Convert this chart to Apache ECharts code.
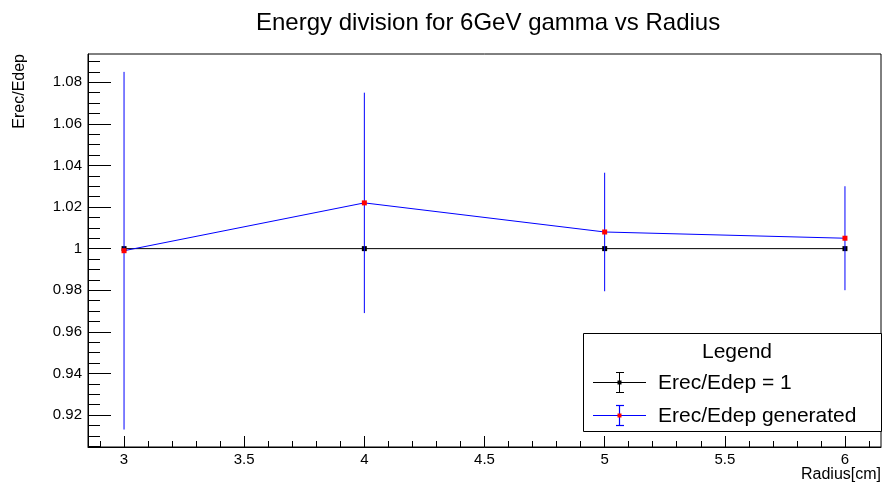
<!DOCTYPE html>
<html><head><meta charset="utf-8">
<script src="https://cdn.jsdelivr.net/npm/echarts@6/dist/echarts.min.js"></script>
<style>html,body{margin:0;padding:0;background:#fff}#c{width:884px;height:484px}</style>
</head><body><div id="c"></div>
<script>
// ---- data ----
const radius = [3, 4, 5, 6];
const refValues = [1, 1, 1, 1];
const genValues = [0.999, 1.022, 1.008, 1.005];
const genErrors = [0.086, 0.053, 0.0285, 0.025];
const xMajorTicks = [3, 3.5, 4, 4.5, 5, 5.5, 6];
const yMajorTicks = [0.92, 0.94, 0.96, 0.98, 1, 1.02, 1.04, 1.06, 1.08];
const seriesNames = ['Erec/Edep = 1', 'Erec/Edep generated'];

const X_MIN = 2.85, X_MAX = 6.15;
const Y_MIN = 0.9046, Y_MAX = 1.0936;

const xMinorTicks = [];
for (let i = 29; i <= 61; i++) xMinorTicks.push(i / 10);
const yMinorTicks = [];
for (let i = 181; i <= 218; i++) yMinorTicks.push(i / 200);

const FONT = 'Liberation Sans, Arial, Helvetica, sans-serif';
const fmt = v => String(+(+v).toFixed(2));

const chart = echarts.init(document.getElementById('c'), null, {renderer: 'canvas'});

function xAxisBase() {
  return {type: 'value', min: X_MIN, max: X_MAX, position: 'bottom', splitLine: {show: false}};
}
function yAxisBase() {
  return {type: 'value', min: Y_MIN, max: Y_MAX, position: 'left', splitLine: {show: false}};
}

const option = {
  animation: false,
  backgroundColor: '#fff',
  title: {
    text: 'Energy division for 6GeV gamma vs Radius',
    left: 251, top: 6,
    textStyle: {fontFamily: FONT, fontSize: 24, fontWeight: 'normal', color: '#000'}
  },
  grid: {left: 88, right: 3, top: 54, bottom: 37, show: true, borderColor: '#000', borderWidth: 1},
  xAxis: [
    Object.assign(xAxisBase(), {
      axisLine: {show: true, onZero: false, lineStyle: {color: '#000', width: 1}},
      axisTick: {show: true, inside: true, length: 11, customValues: xMajorTicks, lineStyle: {color: '#000'}},
      axisLabel: {show: true, customValues: xMajorTicks, formatter: fmt, margin: 5,
        fontFamily: FONT, fontSize: 15, color: '#000'}
    }),
    Object.assign(xAxisBase(), {
      axisLine: {show: false, onZero: false},
      axisTick: {show: true, inside: true, length: 6, customValues: xMinorTicks, lineStyle: {color: '#000'}},
      axisLabel: {show: false}
    })
  ],
  yAxis: [
    Object.assign(yAxisBase(), {
      axisLine: {show: true, onZero: false, lineStyle: {color: '#000', width: 1}},
      axisTick: {show: true, inside: true, length: 23, customValues: yMajorTicks, lineStyle: {color: '#000'}},
      axisLabel: {show: true, customValues: yMajorTicks, formatter: fmt, margin: 6,
        fontFamily: FONT, fontSize: 15, color: '#000'}
    }),
    Object.assign(yAxisBase(), {
      axisLine: {show: false, onZero: false},
      axisTick: {show: true, inside: true, length: 12, customValues: yMinorTicks, lineStyle: {color: '#000'}},
      axisLabel: {show: false}
    })
  ],
  series: [
    {
      name: seriesNames[0], type: 'line', xAxisIndex: 0, yAxisIndex: 0,
      data: radius.map((r, i) => [r, refValues[i]]),
      symbol: 'rect', symbolSize: 5, showSymbol: true,
      lineStyle: {color: '#000', width: 1}, itemStyle: {color: '#000'}, z: 2
    },
    {
      name: seriesNames[1] + ' errors', type: 'custom', xAxisIndex: 0, yAxisIndex: 0,
      data: radius.map((r, i) => [r, genValues[i], genErrors[i]]),
      encode: {x: 0, y: 1},
      renderItem: (params, api) => {
        const x = api.value(0), y = api.value(1), e = api.value(2);
        const t = api.coord([x, y + e]);
        const b = api.coord([x, y - e]);
        return {type: 'line', shape: {x1: t[0], y1: t[1], x2: b[0], y2: b[1]},
          style: {stroke: '#0000ff', lineWidth: 1}};
      },
      z: 3
    },
    {
      name: seriesNames[1], type: 'line', xAxisIndex: 0, yAxisIndex: 0,
      data: radius.map((r, i) => [r, genValues[i]]),
      symbol: 'rect', symbolSize: 5, showSymbol: true,
      lineStyle: {color: '#0000ff', width: 1}, itemStyle: {color: '#ff0000'}, z: 4
    }
  ],
  graphic: [
    // axis titles
    {type: 'text', x: 20, y: 54, rotation: Math.PI / 2,
      style: {text: 'Erec/Edep', font: '16px ' + FONT, fill: '#000', align: 'right', verticalAlign: 'middle'}},
    {type: 'text', x: 881, y: 475,
      style: {text: 'Radius[cm]', font: '16px ' + FONT, fill: '#000', align: 'right', verticalAlign: 'middle'}},
    // legend box
    {type: 'rect', shape: {x: 583.5, y: 333.5, width: 298, height: 98},
      style: {fill: '#fff', stroke: '#000', lineWidth: 1}, z: 10},
    {type: 'text', x: 737, y: 352, z: 11,
      style: {text: 'Legend', font: '21px ' + FONT, fill: '#000', align: 'center', verticalAlign: 'middle'}},
    // entry 1
    {type: 'line', shape: {x1: 593, y1: 382.5, x2: 646, y2: 382.5}, style: {stroke: '#000', lineWidth: 1}, z: 11},
    {type: 'line', shape: {x1: 619.5, y1: 372, x2: 619.5, y2: 393}, style: {stroke: '#000', lineWidth: 1}, z: 11},
    {type: 'line', shape: {x1: 616, y1: 372.5, x2: 624, y2: 372.5}, style: {stroke: '#000', lineWidth: 1}, z: 11},
    {type: 'line', shape: {x1: 616, y1: 392.5, x2: 624, y2: 392.5}, style: {stroke: '#000', lineWidth: 1}, z: 11},
    {type: 'rect', shape: {x: 617.5, y: 380.5, width: 4, height: 4}, style: {fill: '#000'}, z: 12},
    {type: 'text', x: 658, y: 383, z: 11,
      style: {text: seriesNames[0], font: '21px ' + FONT, fill: '#000', align: 'left', verticalAlign: 'middle'}},
    // entry 2
    {type: 'line', shape: {x1: 593, y1: 415.5, x2: 646, y2: 415.5}, style: {stroke: '#0000ff', lineWidth: 1.2}, z: 11},
    {type: 'line', shape: {x1: 619.5, y1: 405, x2: 619.5, y2: 426}, style: {stroke: '#0000ff', lineWidth: 1.2}, z: 11},
    {type: 'line', shape: {x1: 616, y1: 405.5, x2: 624, y2: 405.5}, style: {stroke: '#0000ff', lineWidth: 1.2}, z: 11},
    {type: 'line', shape: {x1: 616, y1: 425.5, x2: 624, y2: 425.5}, style: {stroke: '#0000ff', lineWidth: 1.2}, z: 11},
    {type: 'rect', shape: {x: 617.5, y: 413.5, width: 4, height: 4}, style: {fill: '#ff0000'}, z: 12},
    {type: 'text', x: 658, y: 416, z: 11,
      style: {text: seriesNames[1], font: '21px ' + FONT, fill: '#000', align: 'left', verticalAlign: 'middle'}}
  ]
};
chart.setOption(option);
</script>
</body></html>
